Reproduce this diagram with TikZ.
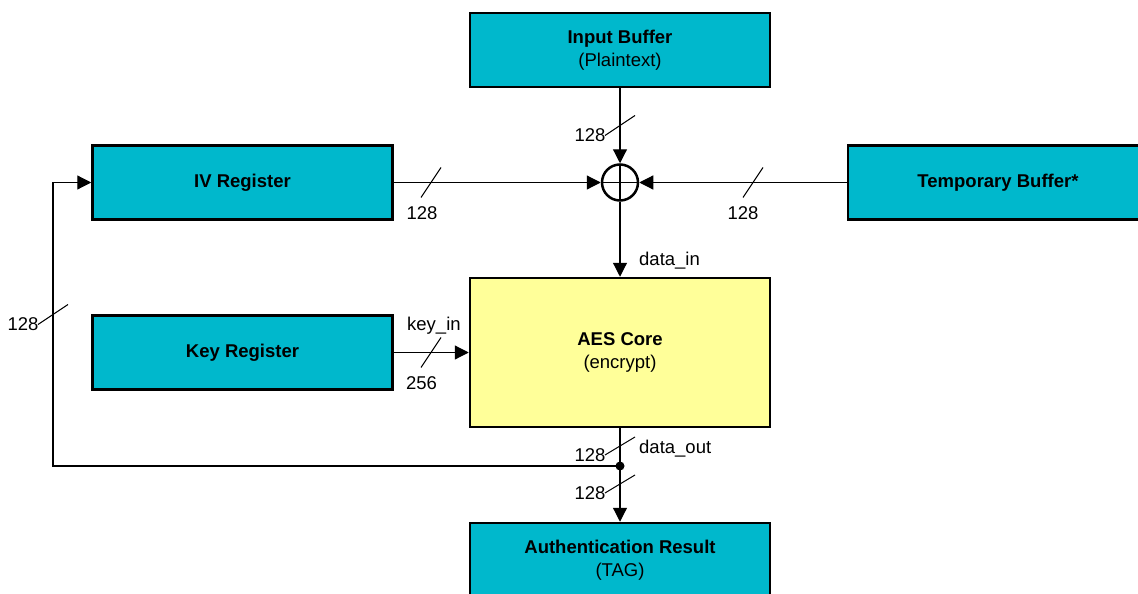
\documentclass[tikz,border=0pt]{standalone}
\usepackage{fontspec}
\setmainfont{Liberation Sans}
\usetikzlibrary{arrows.meta}
\definecolor{Cyan}{HTML}{00B8CC}
\definecolor{Lemon}{HTML}{FFFF99}

\begin{document}
\begin{tikzpicture}[
  x=1pt,y=-1pt,
  every node/.style={font=\fontsize{18.5}{23}\selectfont,align=center},
  blk/.style={draw,line width=2.5pt,fill=#1,minimum width=300pt,minimum height=74pt},
  blk/.default=Cyan,
  xorop/.style={circle,draw,line width=2.5pt,minimum size=36pt,inner sep=0pt},
  arr/.style={-{Triangle[length=14pt,width=14pt]},line width=1.2pt},
  wire/.style={line width=1.2pt},
  tick/.style={line width=1pt},
  lbl/.style={inner sep=0pt,anchor=base},
  sig/.style={inner sep=0pt,anchor=base west}
]
\useasboundingbox (0,0) rectangle (1138,594);

\node[blk] (inbuf) at (620,50) {\textbf{Input Buffer}\\(Plaintext)};
\node[blk] (iv) at (242.5,182.5) {\textbf{IV Register}};
\node[blk] (tmp) at (998,182.5) {\textbf{Temporary Buffer*}};
\node[blk] (key) at (242.5,352.5) {\textbf{Key Register}};
\node[blk=Lemon,minimum height=149pt] (aes) at (620,352.5) {\textbf{AES Core}\\(encrypt)};
\node[blk] (tag) at (620,560) {\textbf{Authentication Result}\\(TAG)};
\node[xorop] (xor) at (620,182.5) {};
\coordinate (j) at (620,466);
\coordinate (fb) at (53,466);

\draw[arr] (inbuf)--(xor);
\draw[arr] (iv)--(xor);
\draw[arr] (tmp)--(xor);
\draw[arr] (xor)--(aes);
\draw[arr] (key)--(aes);
\draw[wire] (aes)--(j);
\draw[arr] (j)--(tag);
\draw[arr] (j)--(fb)|-(iv.west);
\draw[line width=1.8pt] (602,182.5) -- (638,182.5) (620,164.5) -- (620,200.5);
\fill (j) circle (4.5);

\coordinate (t1) at (431,182.5);
\coordinate (t2) at (753,182.5);
\coordinate (t3) at (620,125.5);
\coordinate (t4) at (53,314.5);
\coordinate (t5) at (431,352.5);
\coordinate (t6) at (620,446);
\coordinate (t7) at (620,484);
\draw[tick] (t1) +(-10,15) -- +(10,-15);
\draw[tick] (t2) +(-10,15) -- +(10,-15);
\draw[tick] (t3) +(-15,10) -- +(15,-10);
\draw[tick] (t4) +(-15,10) -- +(15,-10);
\draw[tick] (t5) +(-10,15) -- +(10,-15);
\draw[tick] (t6) +(-15,9) -- +(15,-9);
\draw[tick] (t7) +(-15,9) -- +(15,-9);

\node[lbl] (w1) at (422,219) {128};
\node[lbl] (w2) at (743,219) {128};
\node[lbl] (w3) at (590,141.5) {128};
\node[lbl] (w4) at (23,330) {128};
\node[lbl] (w5) at (421.5,389) {256};
\node[lbl] (w6) at (590,461.5) {128};
\node[lbl] (w7) at (590,499) {128};
\node[sig] (din) at (639,265) {data\_in};
\node[sig] (kin) at (407,330.5) {key\_in};
\node[sig] (dout) at (639,453) {data\_out};
\end{tikzpicture}
\end{document}
